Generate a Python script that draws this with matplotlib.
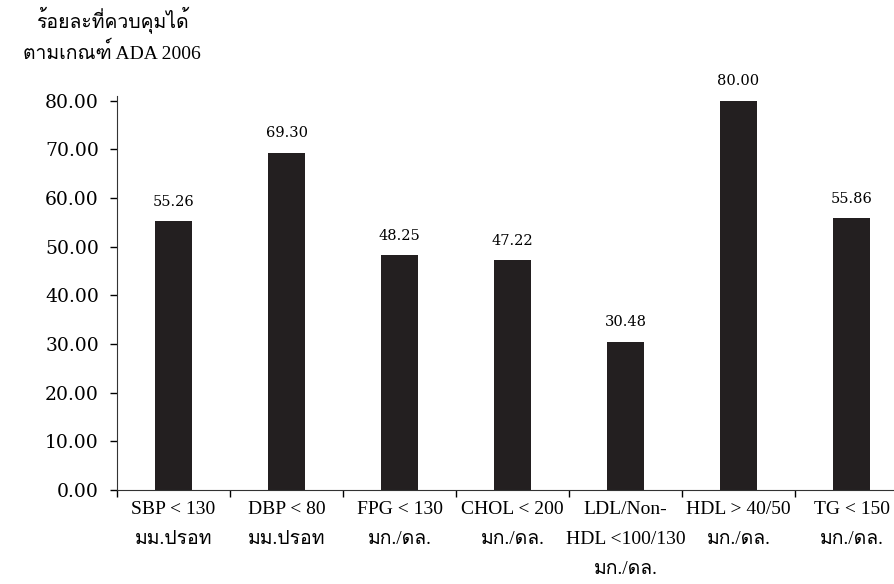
import matplotlib
matplotlib.use("Agg")
import matplotlib.pyplot as plt
from matplotlib import font_manager
from fontTools.ttLib import TTFont

categories = ["SBP < 130\nมม.ปรอท", "DBP < 80\nมม.ปรอท", "FPG < 130\nมก./ดล.",
              "CHOL < 200\nมก./ดล.", "LDL/Non-\nHDL <100/130\nมก./ดล.",
              "HDL > 40/50\nมก./ดล.", "TG < 150\nมก./ดล."]
values = [55.26, 69.30, 48.25, 47.22, 30.48, 80.00, 55.86]
yticks = [0, 10, 20, 30, 40, 50, 60, 70, 80]
ylabel_lines = ["ร้อยละที่ควบคุมได้", "ตามเกณฑ์ ADA 2006"]


def find_thai_font():
    # look for any installed family that has Thai glyphs
    for f in font_manager.fontManager.ttflist:
        try:
            font = TTFont(f.fname, fontNumber=0, lazy=True)
            cmap = font.getBestCmap()
            if cmap and 0x0E01 in cmap and 0x0E21 in cmap:
                return f.name
        except Exception:
            continue
    return None


thai = find_thai_font()
serif = ["Liberation Serif"] + ([thai] if thai else []) + ["DejaVu Serif", "DejaVu Sans"]
num_font = ["DejaVu Serif"]
bar_color = "#231f20"

fig = plt.figure(figsize=(8.94, 5.84), dpi=100)
ax = fig.add_axes([0.1309, 0.161, 0.8848, 0.6747])

x = list(range(len(values)))
ax.bar(x, values, width=0.32, color=bar_color)
for xi, v in zip(x, values):
    ax.annotate(f"{v:.2f}", (xi, v), xytext=(0, 9), textcoords="offset points",
                ha="center", va="bottom", fontsize=10.5, family=num_font)

ax.set_xlim(-0.5, len(values) - 0.5)
ax.set_ylim(0, 81)
ax.set_yticks(yticks)
ax.set_yticklabels([f"{t:.2f}" for t in yticks], family=num_font, fontsize=13.5)

ax.set_xticks([i - 0.5 for i in range(len(values) + 1)])
ax.set_xticklabels([])
ax.set_xticks(x, minor=True)
ax.set_xticklabels(categories, minor=True, family=serif, fontsize=14, linespacing=2.0,
                   va="top")
ax.tick_params(axis="x", which="minor", length=0, pad=8)
ax.tick_params(axis="x", which="major", length=5, width=1, direction="out")
ax.tick_params(axis="y", length=5, width=1, direction="out", pad=8)

for side in ["top", "right"]:
    ax.spines[side].set_visible(False)
ax.spines["left"].set_color("#333333")
ax.spines["bottom"].set_color("#333333")

fig.text(112 / 894, 1 - 20 / 584, ylabel_lines[0], ha="center", va="center",
         family=serif, fontsize=14)
fig.text(112 / 894, 1 - 52 / 584, ylabel_lines[1], ha="center", va="center",
         family=serif, fontsize=14)

fig.savefig("out.png", dpi=100)
